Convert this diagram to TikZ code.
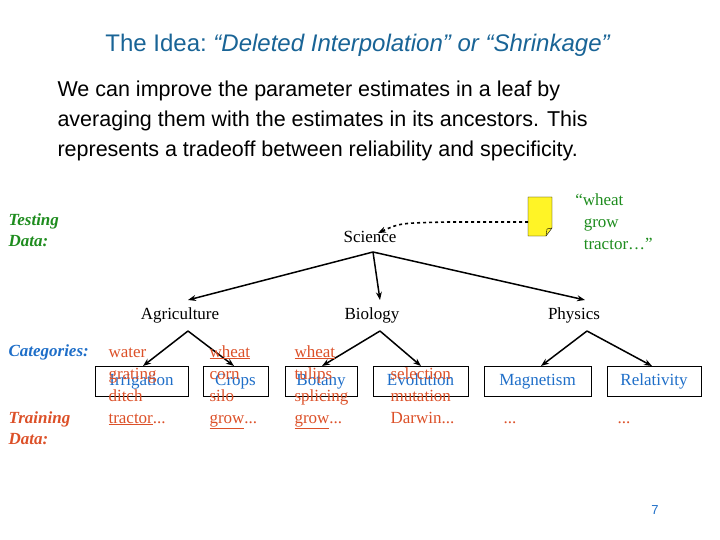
\documentclass[tikz,border=0pt]{standalone}
\usepackage{fontspec}
\setmainfont{Liberation Serif}
\setsansfont{Liberation Sans}
\usetikzlibrary{arrows.meta}
\definecolor{ttl}{RGB}{25,100,150}
\definecolor{grn}{RGB}{30,140,30}
\definecolor{org}{RGB}{220,80,40}
\definecolor{cat}{RGB}{30,110,200}
\begin{document}
\begin{tikzpicture}[x=1pt,y=-1pt,
  lab/.style={font=\fontsize{17}{19}\selectfont},
  cbox/.style={draw,line width=1pt,minimum height=30pt,text=cat,font=\fontsize{17}{19}\selectfont,inner sep=0pt,text height=12pt,text depth=4pt},
  side/.style={font=\bfseries\itshape\fontsize{17}{21}\selectfont,align=left,anchor=west},
  words/.style={text=org,font=\fontsize{17}{22}\selectfont,align=left,anchor=base west},
  arr/.style={-{Stealth[length=8pt,width=6pt]},line width=1.5pt}]
\useasboundingbox (0,0) rectangle (720,540);
\node[text=ttl,font=\sffamily\fontsize{24}{26}\selectfont] (title) at (358,45) {The Idea:\ \textit{``Deleted Interpolation'' or ``Shrinkage''}};
\node[font=\sffamily\fontsize{21.5}{30}\selectfont,align=left,anchor=north west] (body) at (54,77) {We can improve the parameter estimates in a leaf by\\averaging them with the estimates in its ancestors.  This\\represents a tradeoff between reliability and specificity.};
\node[side,text=grn] (test) at (5,230) {Testing\\Data:};
\node[side,text=cat] (cats) at (5,352) {Categories:};
\node[side,text=org] (train) at (5,428) {Training\\Data:};
\node[lab] (sci) at (370,237) {Science};
\node[lab] (agr) at (180,315) {Agriculture};
\node[lab] (bio) at (372,315) {Biology};
\node[lab] (phy) at (574,315) {Physics};
\coordinate (s0) at (373,252);
\coordinate (a0) at (188,331);
\coordinate (b0) at (380,331);
\coordinate (p0) at (587,331);
\draw[arr] (s0) -- (188,300);
\draw[arr] (s0) -- (380,300);
\draw[arr] (s0) -- (585,300);
\node[cbox,minimum width=93pt] (irr) at (141.5,381) {Irrigation};
\node[cbox,minimum width=65pt] (crp) at (235.5,381) {Crops};
\node[cbox,minimum width=72pt] (bot) at (321,381) {Botany};
\node[cbox,minimum width=95pt] (evo) at (420.5,381) {Evolution};
\node[cbox,minimum width=107pt] (mag) at (537.5,381) {Magnetism};
\node[cbox,minimum width=94pt] (rel) at (654,381) {Relativity};
\draw[arr] (a0) -- (143,366);
\draw[arr] (a0) -- (234,366);
\draw[arr] (b0) -- (322,366);
\draw[arr] (b0) -- (421,366);
\draw[arr] (p0) -- (541,366);
\draw[arr] (p0) -- (652,366);
\node[words] (w1) at (105,423) {water\\grating\\ditch\\\underline{tractor}...};
\node[words] (w2) at (206,423) {\underline{wheat}\\corn\\silo\\\underline{grow}...};
\node[words] (w3) at (291,423) {\underline{wheat}\\tulips\\splicing\\\underline{grow}...};
\node[words] (w4) at (387,423) {selection\\mutation\\Darwin...};
\node[words] (w5) at (500,423) {...};
\node[words] (w6) at (614,423) {...};
\draw[fill=yellow!85!white] (528,197) -- (552,197) -- (552,228) -- (546,236) -- (528,236) -- cycle;
\draw (546,236) -- (547,229) -- (552,228);
\coordinate (note) at (528,222);
\node[text=grn,font=\fontsize{17}{22}\selectfont,align=left] (q) at (614,222) {``wheat\\\ \ grow\\\ \ tractor\dots''};
\draw[arr,dashed,line width=1.6pt] (note) -- (450,222) .. controls (400,223) .. (378,233);
\node[text=cat,font=\sffamily\fontsize{13}{14}\selectfont] (pg) at (655,510) {7};
\end{tikzpicture}
\end{document}
